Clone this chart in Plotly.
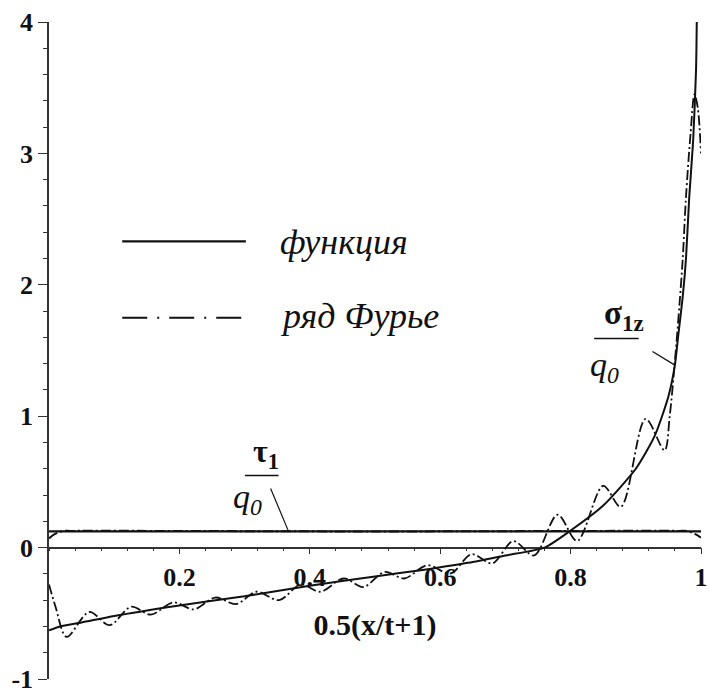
import plotly.graph_objects as go

# ---------------- data ----------------
sigma_x = [0.0, 0.017, 0.05, 0.1, 0.2, 0.3, 0.4, 0.5, 0.573, 0.6, 0.65, 0.7, 0.76,
           0.8, 0.85, 0.9, 0.929, 0.95, 0.96, 0.965, 0.972, 0.977, 0.982, 0.988,
           0.9925, 0.9935, 0.995]
sigma_y = [-0.63, -0.60, -0.57, -0.52, -0.44, -0.37, -0.29, -0.22, -0.17, -0.15, -0.11,
           -0.06, 0.0, 0.13, 0.32, 0.60, 0.85, 1.15, 1.39, 1.61, 1.91, 2.20, 2.67,
           3.10, 3.65, 4.0, 4.6]

fourier_x = [0.0, 0.01, 0.027, 0.0616, 0.093, 0.126, 0.156, 0.191, 0.222, 0.255, 0.287,
             0.318, 0.353, 0.386, 0.416, 0.452, 0.482, 0.515, 0.545, 0.58, 0.616, 0.648,
             0.68, 0.712, 0.744, 0.78, 0.81, 0.85, 0.877, 0.915, 0.944, 0.952, 0.96,
             0.967, 0.972, 0.977, 0.984, 0.99, 0.995, 1.0]
fourier_y = [-0.28, -0.45, -0.68, -0.49, -0.59, -0.45, -0.51, -0.417, -0.47, -0.38, -0.43,
             -0.336, -0.40, -0.28, -0.336, -0.235, -0.30, -0.185, -0.235, -0.134, -0.197,
             -0.05, -0.12, 0.05, -0.06, 0.25, 0.05, 0.47, 0.31, 0.98, 0.74, 1.0, 1.42,
             1.85, 2.2, 2.67, 3.15, 3.45, 3.35, 3.0]

tau_x = [0.0, 1.0]
tau_y = [0.123, 0.123]
tau_f_x = [0.0, 0.008, 0.02, 0.035, 0.5, 0.965, 0.98, 0.992, 1.0]
tau_f_y = [0.07, 0.10, 0.125, 0.127, 0.123, 0.127, 0.125, 0.10, 0.075]

x_tickvals = [0.2, 0.4, 0.6, 0.8, 1.0]
x_ticktext = ["0.2", "0.4", "0.6", "0.8", "1"]
y_tickvals = [-1, 0, 1, 2, 3, 4]
y_ticktext = ["-1", "0", "1", "2", "3", "4"]
legend_labels = ["функция", "ряд Фурье"]
x_title = "0.5(x/t+1)"

# ---------------- layout geometry ----------------
W, H = 711, 697
ML, MR, MT, MB = 49, 3, 22, 13
PW, PH = W - ML - MR, H - MT - MB
FONT = "Liberation Serif"
INK = "#111111"
AX = "#333333"
FDASH = "10px,3px,2px,3px"


def px(xp):
    return (xp - ML) / PW


def py(yp):
    return (H - MB - yp) / PH


def note(xp, yp, text, size, anchor="center", **font_kw):
    return dict(xref="paper", yref="paper", x=px(xp), y=py(yp), text=text,
                showarrow=False, xanchor=anchor, yanchor="middle",
                font=dict(family=FONT, size=size, color=INK, **font_kw))


def seg(x0, y0, x1, y1, width, dash="solid"):
    return dict(type="line", xref="paper", yref="paper", x0=px(x0), x1=px(x1),
                y0=py(y0), y1=py(y1), line=dict(color=INK, width=width, dash=dash))


fig = go.Figure()
fig.add_trace(go.Scatter(x=tau_f_x, y=tau_f_y, mode="lines", line_shape="spline",
                         line=dict(color=INK, width=2, dash=FDASH), showlegend=False))
fig.add_trace(go.Scatter(x=tau_x, y=tau_y, mode="lines",
                         line=dict(color=INK, width=2.2), showlegend=False))
fig.add_trace(go.Scatter(x=fourier_x, y=fourier_y, mode="lines", line_shape="spline",
                         line=dict(color=INK, width=1.8, dash=FDASH, smoothing=0.9),
                         showlegend=False))
fig.add_trace(go.Scatter(x=sigma_x, y=sigma_y, mode="lines", line_shape="spline",
                         line=dict(color=INK, width=2, smoothing=0.6), showlegend=False))

shapes = []
annotations = []

# legend drawn by hand
shapes.append(seg(123, 243, 248, 243, 2.2))
shapes.append(seg(123, 320, 248, 320, 2, "25px,10px,2px,10px"))
for lab, yy in zip(legend_labels, [244, 318]):
    annotations.append(note(280, yy, lab, 36, anchor="left", style="italic"))

# tau label
annotations.append(note(268, 457, "<b>τ</b><sub><b>1</b></sub>", 32))
shapes.append(seg(247, 479, 281, 479, 1.5))
annotations.append(note(250, 503, "<i>q</i><sub><i>0</i></sub>", 34))
shapes.append(seg(273, 492, 291, 535, 1.2))

# sigma label
annotations.append(note(630, 318, "<b>σ</b><sub><b>1z</b></sub>", 33))
shapes.append(seg(600, 341, 645, 341, 1.5))
annotations.append(note(610, 370, "<i>q</i><sub><i>0</i></sub>", 34))
shapes.append(seg(659, 354, 682, 368, 1.2))

fig.update_layout(
    width=W, height=H,
    margin=dict(l=ML, r=MR, t=MT, b=MB, pad=0),
    paper_bgcolor="white", plot_bgcolor="white",
    showlegend=False,
    shapes=shapes, annotations=annotations,
    xaxis=dict(range=[0, 1], anchor="free", position=0.2, showgrid=False,
               zeroline=False, showline=True, linecolor=AX, linewidth=1.5,
               tickmode="array", tickvals=x_tickvals, ticktext=x_ticktext,
               ticks="outside", ticklen=6, tickwidth=1.2, tickcolor=AX,
               ticklabeloverflow="allow",
               minor=dict(dtick=0.04, ticks="outside", ticklen=3, tickwidth=1,
                          tickcolor=AX, showgrid=False),
               tickfont=dict(family=FONT, size=26, weight="bold", color=INK),
               layer="below traces",
               title=dict(text=x_title, standoff=22,
                          font=dict(family=FONT, size=30, weight="bold", color=INK))),
    yaxis=dict(range=[-1, 4], showgrid=False, zeroline=False, showline=True,
               linecolor=AX, linewidth=1.5,
               tickmode="array", tickvals=y_tickvals, ticktext=y_ticktext,
               ticks="outside", ticklen=9, tickwidth=1.2, tickcolor=AX,
               ticklabeloverflow="allow",
               minor=dict(dtick=0.2, ticks="outside", ticklen=4, tickwidth=1,
                          tickcolor=AX, showgrid=False),
               tickfont=dict(family=FONT, size=26, weight="bold", color=INK),
               layer="below traces"),
)

fig.write_html("out.html")
